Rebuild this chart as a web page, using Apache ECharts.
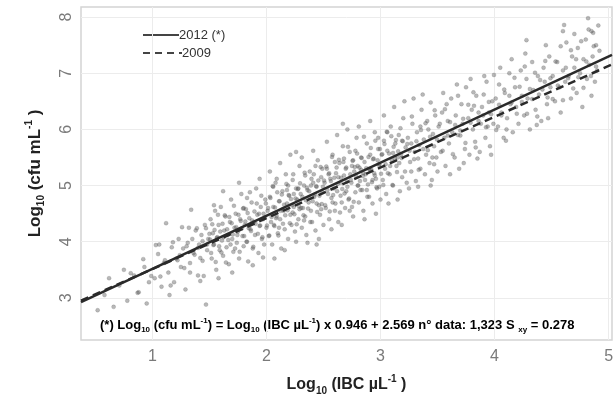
<!DOCTYPE html>
<html>
<head>
    <meta charset="utf-8">
    <script src="https://cdn.jsdelivr.net/npm/echarts@6.0.0/dist/echarts.min.js"></script>
    <style>
        html, body { margin: 0; padding: 0; background: #fff; }
        #container { width: 615px; height: 399px; }
    </style>
</head>
<body>
<div id="container"></div>
<script type="text/javascript">
    // tick labels
    var xTicks = [1, 2, 3, 4, 5];
    var yTicks = [3, 4, 5, 6, 7, 8];

    // regression lines: [slope, intercept]
    var fit2012 = [0.946, 2.569];
    var fit2009 = [0.9035, 2.6115];
    var lineX = [0.374, 5.03];

    // points, [log10 IBC, log10 cfu]
    var ptsLow = [
        [0.52,2.78],[0.58,3.05],[0.66,2.84],[0.71,3.22],[0.78,2.95],[0.84,3.40],[0.88,3.10],[0.93,3.55],
        [0.97,3.28],[0.62,3.35],[0.75,3.50],[0.95,2.90],
        [1.02,3.35],[1.05,3.78],[1.08,3.20],[1.10,3.62],[1.12,4.33],[1.14,3.45],[1.17,3.90],[1.19,3.28],
        [1.21,3.70],[1.23,4.05],[1.25,3.55],[1.27,3.88],[1.29,3.15],[1.31,3.98],[1.33,3.62],[1.34,4.57],
        [1.36,3.80],[1.38,4.20],[1.40,3.40],[1.41,3.95],[1.43,4.12],[1.44,3.66],[1.46,4.30],[1.47,2.88],
        [1.48,3.85],[1.49,4.05],[1.15,3.05],[1.32,4.25],[1.42,3.30],[1.06,3.95],
        [0.81,3.44],[0.87,3.09],[0.92,3.69],[0.99,3.39],[1.03,3.94],[1.07,3.38],[1.11,3.67],[1.16,3.22],
        [1.18,3.99],[1.22,3.67],[1.26,4.26],[1.28,3.53],[1.30,3.92],[1.33,3.45],[1.35,4.05],[1.37,3.77],
        [1.39,4.24],[1.42,3.71],[1.44,4.01],[1.45,3.39],[1.47,4.24],[1.48,3.95],[1.50,4.14],[1.24,3.76],
        [1.40,3.89]
    ];
    var ptsMid1 = [
        [1.51,4.40],[1.52,3.70],[1.53,4.15],[1.54,3.95],[1.55,4.55],[1.56,3.50],[1.57,4.08],[1.58,4.30],
        [1.59,3.85],[1.60,4.62],[1.61,4.02],[1.62,3.75],[1.63,4.20],[1.64,4.45],[1.65,3.90],[1.66,4.12],
        [1.67,3.60],[1.68,4.35],[1.69,4.75],[1.70,4.05],[1.71,3.82],[1.72,4.25],[1.73,4.50],[1.74,3.98],
        [1.75,4.18],[1.76,3.70],[1.77,4.40],[1.78,4.85],[1.79,4.10],[1.80,3.92],[1.81,4.30],[1.82,4.58],
        [1.83,4.00],[1.84,3.65],[1.85,4.42],[1.86,4.22],[1.87,4.70],[1.88,3.88],[1.89,4.35],[1.90,4.12],
        [1.91,4.95],[1.92,4.48],[1.93,3.80],[1.94,4.28],[1.95,4.62],[1.96,4.05],[1.97,4.40],[1.98,3.95],
        [1.99,4.75],[2.00,4.25],[1.54,4.65],[1.62,4.90],[1.70,3.45],[1.76,5.05],[1.83,4.78],[1.88,3.58],
        [1.94,5.12],[1.97,3.72],[1.58,3.35],[1.80,4.60],
        [2.01,4.55],[2.02,4.10],[2.03,4.80],[2.04,4.35],[2.05,3.95],[2.06,4.62],[2.07,4.28],[2.08,5.05],
        [2.09,4.45],[2.10,4.15],[2.11,4.72],[2.12,4.40],[2.13,3.88],[2.14,4.90],[2.15,4.55],[2.16,4.22],
        [2.17,5.20],[2.18,4.68],[2.19,4.05],[2.20,4.82],[2.21,4.48],[2.22,4.30],[2.23,5.10],[2.24,4.62],
        [2.25,4.18],[2.26,4.95],[2.27,4.75],[2.28,4.40],[2.29,5.35],[2.30,4.85],[2.31,4.25],[2.32,4.60],
        [2.33,5.00],[2.34,4.45],[2.35,4.12],[2.36,4.92],[2.37,4.70],[2.38,5.25],[2.39,4.55],[2.40,4.35],
        [2.41,5.05],[2.42,4.80],[2.43,4.20],[2.44,4.98],[2.45,5.45],[2.46,4.65],[2.47,4.48],[2.48,5.15],
        [2.49,4.88],[2.50,4.30],[2.03,5.25],[2.07,3.70],[2.12,5.40],[2.16,3.85],[2.21,5.55],[2.26,4.00],
        [2.31,5.50],[2.36,3.98],[2.41,5.62],[2.46,4.05],[2.06,4.98],[2.11,4.25],[2.18,4.92],[2.23,4.52],
        [2.28,4.95],[2.33,4.38],[2.38,4.78],[2.43,5.35],[2.48,4.58],[2.14,4.58],[2.19,5.00],[2.24,4.85],
        [2.29,4.58],[2.34,5.18],[2.39,5.00],[2.44,4.68],[2.49,5.30],[2.09,5.12],[2.26,5.60],[2.44,3.95]
    ];
    var ptsMid1b = [
        [1.505,4.04],[1.515,3.80],[1.525,4.31],[1.535,3.94],[1.545,4.21],[1.555,3.64],[1.565,4.07],[1.575,4.48],
        [1.585,3.92],[1.595,4.18],[1.605,3.81],[1.615,4.32],[1.625,4.08],[1.635,4.47],[1.645,3.63],[1.655,4.22],
        [1.665,4.03],[1.675,4.44],[1.685,3.95],[1.695,4.33],[1.705,4.13],[1.715,4.64],[1.725,3.88],[1.735,4.26],
        [1.745,4.12],[1.755,4.48],[1.765,3.82],[1.775,4.37],[1.785,4.24],[1.795,4.59],[1.805,4.10],[1.815,4.36],
        [1.825,4.00],[1.835,4.51],[1.845,4.24],[1.855,4.88],[1.865,4.19],[1.875,4.38],[1.885,3.91],[1.895,4.54],
        [1.905,4.32],[1.915,4.68],[1.925,4.14],[1.935,4.50],[1.945,4.29],[1.955,4.82],[1.965,4.08],[1.975,4.50],
        [1.985,4.43],[1.995,4.68],[2.005,4.29],[2.015,4.60],[2.025,4.11],[2.035,4.78],[2.045,4.44],[2.055,4.99],
        [2.065,4.30],[2.075,4.61],[2.085,4.42],[2.095,4.88],[2.105,4.11],[2.115,4.72],[2.125,4.55],[2.135,4.84],
        [2.145,4.32],[2.155,4.66],[2.165,4.47],[2.175,5.03],[2.185,4.56],[2.195,4.83],[2.205,4.33],[2.215,4.76],
        [2.225,4.65],[2.235,5.20],[2.245,4.49],[2.255,4.77],[2.265,4.31],[2.275,4.94],[2.285,4.63],[2.295,5.04],
        [2.305,4.60],[2.315,4.80],[2.325,4.47],[2.335,5.23],[2.345,4.74],[2.355,4.96],[2.365,4.59],[2.375,4.90],
        [2.385,4.35],[2.395,5.12],[2.405,4.72],[2.415,5.20],[2.425,4.84],[2.435,4.99],[2.445,4.53],[2.455,5.09],
        [2.465,4.82],[2.475,5.33],[2.485,4.67],[2.495,4.98]
    ];
    var ptsMid2 = [
        [2.51,5.05],[2.52,4.60],[2.53,5.30],[2.54,4.85],[2.55,4.40],[2.56,5.12],[2.57,4.78],[2.58,5.55],
        [2.59,4.95],[2.60,4.55],[2.61,5.22],[2.62,4.90],[2.63,4.35],[2.64,5.40],[2.65,5.05],[2.66,4.70],
        [2.67,5.70],[2.68,5.18],[2.69,4.60],[2.70,5.32],[2.71,4.98],[2.72,4.75],[2.73,5.60],[2.74,5.10],
        [2.75,4.62],[2.76,5.45],[2.77,5.25],[2.78,4.88],[2.79,5.85],[2.80,5.35],[2.81,4.70],[2.82,5.08],
        [2.83,5.50],[2.84,4.92],[2.85,4.55],[2.86,5.42],[2.87,5.20],[2.88,5.75],[2.89,5.02],[2.90,4.80],
        [2.91,5.55],[2.92,5.28],[2.93,4.68],[2.94,5.48],[2.95,5.95],[2.96,5.12],[2.97,4.95],[2.98,5.65],
        [2.99,5.38],[3.00,4.75],[2.53,5.78],[2.57,4.22],[2.62,5.90],[2.66,4.30],[2.71,6.00],[2.76,4.45],
        [2.81,6.05],[2.86,4.40],[2.91,6.15],[2.96,4.50],[2.55,5.22],[2.60,5.42],[2.65,4.82],[2.70,4.90],
        [2.75,5.35],[2.80,5.00],[2.85,5.22],[2.90,5.30],[2.95,5.18],[2.99,4.98],[2.58,4.70],[2.68,5.48],
        [2.78,5.62],[2.88,4.92],[2.98,5.85],[2.63,5.15],[2.73,4.55],[2.83,5.28],[2.93,5.10],[2.67,6.10],
        [3.01,5.55],[3.02,5.10],[3.03,5.80],[3.04,5.30],[3.05,4.85],[3.06,5.62],[3.08,5.20],[3.09,6.05],
        [3.10,5.45],[3.11,5.00],[3.13,5.75],[3.14,5.35],[3.15,4.75],[3.16,5.90],[3.18,5.55],[3.19,5.15],
        [3.20,6.20],[3.22,5.68],[3.23,5.05],[3.24,5.85],[3.26,5.42],[3.27,5.25],[3.28,6.10],[3.30,5.60],
        [3.31,5.08],[3.32,5.95],[3.34,5.72],[3.35,5.30],[3.36,6.35],[3.38,5.82],[3.39,5.20],[3.40,5.55],
        [3.42,6.00],[3.43,5.40],[3.44,5.00],[3.46,5.92],[3.47,5.70],[3.48,6.25],[3.49,5.50],[3.50,5.25],
        [3.03,6.25],[3.07,4.68],[3.12,6.40],[3.17,4.90],[3.21,6.50],[3.25,4.95],[3.29,6.55],[3.33,4.98],
        [3.37,6.62],[3.45,5.10],[3.06,5.95],[3.11,5.58],[3.19,5.80],[3.27,5.75],[3.33,5.48],[3.41,6.15],
        [3.47,5.38],[3.15,5.50],[3.35,6.05],[3.44,6.48]
    ];
    var ptsMid2b = [
        [2.505,5.09],[2.515,4.65],[2.525,5.34],[2.535,4.92],[2.545,5.20],[2.555,4.54],[2.565,5.08],[2.575,5.51],
        [2.585,4.83],[2.595,5.14],[2.605,4.68],[2.615,5.32],[2.625,5.03],[2.635,5.46],[2.645,4.52],[2.655,5.14],
        [2.665,4.94],[2.675,5.42],[2.685,4.86],[2.695,5.30],[2.705,5.07],[2.715,5.69],[2.725,4.77],[2.735,5.20],
        [2.745,5.05],[2.755,5.44],[2.765,4.71],[2.775,5.33],[2.785,5.17],[2.795,5.57],[2.805,5.00],[2.815,5.32],
        [2.825,4.92],[2.835,5.49],[2.845,5.17],[2.855,5.87],[2.865,5.10],[2.875,5.31],[2.885,4.80],[2.895,5.51],
        [2.905,5.28],[2.915,5.67],[2.925,5.06],[2.935,5.47],[2.945,5.22],[2.955,5.80],[2.965,4.97],[2.975,5.45],
        [2.985,5.37],[2.995,5.65],[3.005,5.21],[3.015,5.56],[3.025,5.01],[3.035,5.74],[3.045,5.38],[3.055,5.96],
        [3.065,5.22],[3.075,5.57],[3.085,5.35],[3.095,5.88],[3.105,5.01],[3.115,5.69],[3.125,5.49],[3.135,5.81],
        [3.145,5.24],[3.155,5.61],[3.165,5.40],[3.175,6.02],[3.185,5.49],[3.195,5.79],[3.215,5.25],[3.235,5.74],
        [3.255,5.62],[3.275,6.23],[3.295,5.47],[3.315,5.79],[3.335,5.28],[3.355,5.99],[3.375,5.65],[3.395,6.11],
        [3.415,5.63],[3.435,5.87],[3.455,5.50],[3.475,6.34],[3.495,5.82]
    ];
    var ptsHigh = [
        [3.51,6.05],[3.53,5.60],[3.54,6.30],[3.56,5.85],[3.57,5.35],[3.59,6.15],[3.60,5.75],[3.62,6.55],
        [3.63,5.95],[3.65,5.50],[3.66,6.25],[3.68,5.90],[3.69,5.30],[3.71,6.45],[3.72,6.10],[3.74,5.65],
        [3.75,6.75],[3.77,6.20],[3.78,5.55],[3.80,6.35],[3.81,6.00],[3.83,5.78],[3.84,6.60],[3.86,6.15],
        [3.87,5.60],[3.89,6.40],[3.90,6.25],[3.92,5.85],[3.93,6.85],[3.95,6.30],[3.96,5.70],[3.98,6.50],
        [3.99,6.10],[3.55,6.65],[3.61,5.20],[3.67,6.80],[3.73,5.40],[3.79,6.90],[3.85,5.48],[3.91,6.95],
        [3.97,5.55],[3.58,6.45],[3.70,5.98],[3.82,6.42],[3.94,6.05],
        [4.01,6.55],[4.03,6.05],[4.04,6.80],[4.06,6.30],[4.08,5.85],[4.09,6.65],[4.11,6.20],[4.13,7.00],
        [4.14,6.45],[4.16,5.95],[4.18,6.75],[4.19,6.40],[4.21,6.10],[4.23,7.05],[4.24,6.60],[4.26,6.25],
        [4.28,6.90],[4.29,6.55],[4.31,6.00],[4.33,7.20],[4.34,6.70],[4.36,6.35],[4.38,6.95],[4.39,6.62],
        [4.41,6.15],[4.43,7.10],[4.44,6.85],[4.46,6.45],[4.48,7.30],[4.49,6.75],[4.05,7.10],[4.15,7.25],
        [4.27,7.35],[4.37,6.08],[4.47,6.20],[4.10,5.80],[4.28,7.59],[4.45,7.50],
        [4.51,6.95],[4.53,6.50],[4.55,7.20],[4.57,6.75],[4.58,6.30],[4.60,7.05],[4.62,6.85],[4.63,7.55],
        [4.65,6.95],[4.67,6.55],[4.68,7.30],[4.70,7.10],[4.72,6.65],[4.73,7.45],[4.75,7.00],[4.77,6.40],
        [4.78,7.25],[4.80,7.60],[4.81,6.90],[4.83,7.15],[4.85,7.75],[4.86,7.30],[4.88,6.85],[4.89,7.50],
        [4.91,7.85],[4.92,7.40],[4.90,7.05],[4.60,7.75],[4.70,7.70],[4.85,6.60],[4.61,7.86],[4.82,7.98]
    ];
    var ptsHighb = [
        [3.52,6.10],[3.545,5.62],[3.565,6.36],[3.59,5.89],[3.61,6.13],[3.635,5.56],[3.655,6.08],[3.68,6.60],
        [3.70,5.89],[3.725,6.19],[3.745,5.76],[3.77,6.44],[3.79,6.12],[3.815,6.66],[3.835,5.68],[3.86,6.30],
        [3.88,6.10],[3.905,6.62],[3.925,6.04],[3.95,6.49],[3.97,6.27],[3.995,6.97],[4.015,5.99],[4.04,6.44],
        [4.06,6.25],[4.085,6.71],[4.105,6.00],[4.13,6.60],[4.15,6.48],[4.175,6.92],[4.195,6.28],[4.22,6.76],
        [4.24,6.49],[4.265,7.12],[4.285,6.28],[4.31,6.72],[4.33,6.54],[4.355,7.01],[4.375,6.23],[4.40,6.88],
        [4.42,6.71],[4.445,7.22],[4.465,6.57],[4.49,6.91],[4.51,6.54],[4.535,7.21],[4.555,6.78],[4.58,7.48],
        [4.60,6.52],[4.625,7.10],[4.645,6.91],[4.67,7.41],[4.69,6.73],[4.715,7.25],[4.735,6.93],[4.76,7.57],
        [4.78,6.74],[4.805,7.21],[4.825,7.78],[4.845,6.95],[4.87,7.48],[4.89,7.12],[4.865,7.72]
    ];

    function fitLine(fit) {
        return lineX.map(function (x) {
            return [x, fit[0] * x + fit[1]];
        });
    }

    var font = 'Liberation Sans';
    function richSet(size, small, lh, color) {
        return {
            b: { fontFamily: font, fontSize: size, fontWeight: 'bold', color: color, lineHeight: lh, verticalAlign: 'middle' },
            s: { fontFamily: font, fontSize: small, fontWeight: 'bold', color: color, lineHeight: lh, verticalAlign: 'bottom' },
            p: { fontFamily: font, fontSize: small, fontWeight: 'bold', color: color, lineHeight: lh, verticalAlign: 'top' }
        };
    }

    var myChart = echarts.init(document.getElementById('container'), null, { renderer: 'canvas' });
    var option = {
        backgroundColor: '#fff',
        animation: false,
        grid: {
            left: 81, right: 3, top: 7, bottom: 59,
            outerBoundsMode: 'none',
            containLabel: false,
            show: true, borderColor: '#d4d4d4', borderWidth: 1.5, backgroundColor: '#fff'
        },
        xAxis: {
            type: 'value',
            min: lineX[0], max: lineX[1],
            name: '{b|Log}{s|10}{b| (IBC µL}{p|-1}{b| )}',
            nameLocation: 'middle', nameGap: 34,
            nameTextStyle: { rich: richSet(16, 10, 22, '#222') },
            axisLine: { show: false },
            axisTick: { show: false, customValues: xTicks },
            axisLabel: { customValues: xTicks, color: '#7a7a7a', fontFamily: font, fontSize: 16, margin: 9 },
            splitLine: { show: true, lineStyle: { color: '#ececec', width: 1 } }
        },
        yAxis: {
            type: 'value',
            min: 2.25, max: 8.18,
            name: '{b|Log}{s|10}{b| (cfu mL}{p|-1}{b| )}',
            nameLocation: 'middle', nameGap: 35, nameRotate: 90,
            nameTextStyle: { rich: richSet(17, 10, 22, '#222') },
            axisLine: { show: false },
            axisTick: { show: false, customValues: yTicks },
            axisLabel: { customValues: yTicks, rotate: 90, color: '#7a7a7a', fontFamily: font, fontSize: 16, margin: 6 },
            splitLine: { show: true, lineStyle: { color: '#ececec', width: 1 } }
        },
        graphic: [{
            type: 'text',
            left: 100, top: 317,
            style: {
                text: '{b|(*) Log}{s|10}{b| (cfu mL}{p|-1}{b|) = Log}{s|10}{b| (IBC µL}{p|-1}{b|) x 0.946 + 2.569 n° data: 1,323 S }{s|xy}{b| = 0.278}',
                rich: richSet(13, 8, 17, '#333')
            }
        }, {
            type: 'line',
            shape: { x1: 143, y1: 35, x2: 179, y2: 35 },
            style: { stroke: '#444', lineWidth: 2 }
        }, {
            type: 'text',
            x: 179, y: 35,
            style: { text: '2012 (*)', fontFamily: font, fontSize: 13, fill: '#333', verticalAlign: 'middle' }
        }, {
            type: 'line',
            shape: { x1: 143, y1: 53, x2: 182, y2: 53 },
            style: { stroke: '#444', lineWidth: 2, lineDash: [7, 5] }
        }, {
            type: 'text',
            x: 182, y: 53,
            style: { text: '2009', fontFamily: font, fontSize: 13, fill: '#333', verticalAlign: 'middle' }
        }],
        series: [{
            type: 'scatter',
            data: ptsLow.concat(ptsMid1, ptsMid1b, ptsMid2, ptsMid2b, ptsHigh, ptsHighb),
            symbolSize: 4,
            itemStyle: { color: 'rgba(85,85,85,0.52)', borderColor: 'rgba(70,70,70,0.45)', borderWidth: 0.5 },
            z: 2
        }, {
            name: '2012 (*)',
            type: 'line',
            data: fitLine(fit2012),
            symbol: 'none',
            lineStyle: { color: '#2a2a2a', width: 2.5 },
            z: 4
        }, {
            name: '2009',
            type: 'line',
            data: fitLine(fit2009),
            symbol: 'none',
            lineStyle: { color: '#2a2a2a', width: 2.5, type: [8, 5] },
            z: 3
        }]
    };
    myChart.setOption(option, true);
</script>
</body>
</html>
